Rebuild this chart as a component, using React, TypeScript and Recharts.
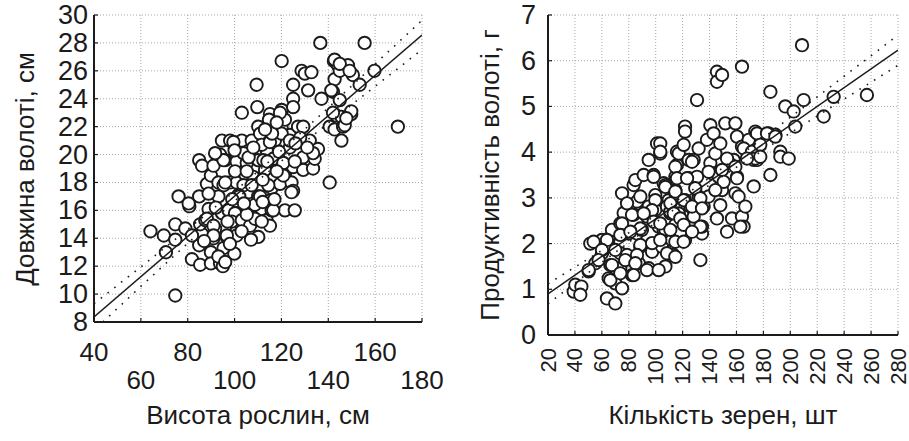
import React from 'react';
import { ScatterChart, Scatter, XAxis, YAxis, CartesianGrid, Label } from 'recharts';

// ---------- tick labels ----------
const heightTicks = [40, 60, 80, 100, 120, 140, 160, 180];
const lengthTicks = [8, 10, 12, 14, 16, 18, 20, 22, 24, 26, 28, 30];
const grainTicks = [20, 40, 60, 80, 100, 120, 140, 160, 180, 200, 220, 240, 260, 280];
const yieldTicks = [0, 1, 2, 3, 4, 5, 6, 7];

// ---------- left panel: plant height (cm) vs panicle length (cm) ----------
const heightLength: [number, number][] = [
  [64.1, 14.5], [69.8, 14.2], [70.7, 13.0], [74.7, 9.9], [74.7, 13.9], [74.7, 15.0], [76.1, 17.0], [79.0, 14.7],
  [80.7, 16.3], [81.8, 12.5], [84.9, 17.0], [84.9, 19.6], [86.1, 19.2], [85.3, 12.1], [84.9, 13.5], [86.1, 14.3],
  [85.3, 15.0], [87.5, 15.3], [88.9, 16.1], [88.2, 17.9], [89.9, 18.5], [91.0, 19.2], [89.9, 13.0], [89.9, 12.2],
  [91.0, 14.0], [91.7, 14.7], [93.8, 12.2], [95.0, 12.0], [94.6, 21.0], [93.8, 20.0], [98.1, 21.0], [96.0, 19.6],
  [93.1, 18.0], [95.3, 17.8], [94.6, 15.8], [93.1, 17.0], [96.7, 14.1], [97.4, 16.0], [98.1, 18.0], [99.9, 12.9],
  [100.9, 19.5], [100.9, 18.0], [100.9, 15.8], [100.9, 14.5], [101.6, 15.2], [103.1, 21.0], [103.8, 20.1], [104.5, 18.6],
  [103.1, 23.0], [105.2, 19.4], [105.9, 17.3], [105.9, 16.2], [105.2, 15.3], [107.3, 21.0], [108.0, 18.4], [109.4, 25.0],
  [109.7, 23.4], [110.1, 22.0], [110.9, 21.5], [110.1, 19.6], [110.9, 17.7], [110.1, 17.0], [109.4, 15.3], [110.1, 14.1],
  [111.6, 16.1], [113.7, 20.3], [113.0, 18.9], [115.1, 22.9], [114.7, 22.5], [113.7, 15.3], [115.1, 16.7], [115.8, 17.6],
  [115.8, 16.0], [116.5, 19.7], [117.2, 21.0], [120.1, 26.7], [120.1, 23.2], [120.1, 21.9], [120.8, 19.2], [121.5, 22.5],
  [121.5, 18.5], [121.5, 16.0], [119.4, 17.9], [123.6, 20.5], [125.0, 25.0], [125.0, 24.0], [125.0, 23.4], [124.3, 18.0],
  [125.0, 17.4], [125.7, 16.0], [125.0, 19.1], [123.6, 21.4], [127.1, 22.0], [128.6, 26.0], [130.0, 25.8], [129.3, 22.0],
  [129.3, 18.9], [129.3, 19.8], [131.4, 24.6], [132.1, 21.0], [132.8, 25.9], [133.5, 19.0], [134.2, 19.7], [135.6, 20.4],
  [136.6, 28.0], [137.1, 24.0], [140.6, 18.0], [140.6, 22.0], [142.0, 24.5], [142.4, 26.7], [142.7, 25.4], [143.4, 22.8],
  [142.7, 21.8], [144.1, 26.4], [144.9, 26.0], [144.9, 23.9], [145.6, 22.7], [146.3, 22.0], [145.6, 21.0], [147.0, 22.1],
  [148.4, 26.4], [149.8, 22.9], [150.5, 25.7], [153.4, 25.0], [155.5, 28.0], [159.7, 26.0], [169.7, 22.0],
  [81.8, 14.2], [80.4, 16.5], [88.2, 15.4], [91.0, 14.9], [88.9, 17.2], [91.0, 14.2], [95.3, 19.6], [91.7, 20.1],
  [99.5, 20.9], [96.0, 18.0], [100.2, 18.8], [105.2, 18.8], [103.8, 17.8], [101.6, 17.1], [100.2, 15.8], [98.8, 15.2],
  [103.1, 15.3], [100.9, 14.2], [96.7, 14.2], [95.3, 13.3], [93.1, 12.7], [96.0, 12.3], [108.7, 16.4], [106.6, 14.9],
  [111.6, 20.7], [112.3, 19.6], [114.4, 17.8], [110.9, 17.0], [107.3, 17.8], [115.1, 14.9], [108.7, 15.4], [105.2, 15.7],
  [111.6, 15.2], [142.7, 26.8], [144.9, 26.5], [149.1, 26.0], [141.3, 24.6], [142.0, 23.0], [149.8, 23.1], [147.7, 22.6],
  [119.4, 23.0], [120.1, 21.5], [115.1, 20.9], [123.6, 21.0], [133.5, 20.1], [120.8, 19.4], [125.7, 19.5], [116.5, 16.0],
  [124.3, 17.3], [120.8, 18.5], [102.0, 17.0], [104.0, 16.5], [106.0, 19.8], [108.0, 20.5], [112.0, 18.2], [114.0, 19.5],
  [118.0, 18.8], [119.0, 20.2], [117.0, 16.8], [99.0, 16.8], [97.0, 15.2], [103.0, 14.5], [107.0, 13.9], [112.0, 16.6],
  [116.0, 21.5], [100.0, 20.3], [92.0, 16.2], [87.0, 13.8], [113.0, 21.8], [118.0, 22.3], [98.0, 13.6], [128.0, 21.2],
  [131.0, 20.5], [126.0, 20.8],
];
const heightFit: [number, number][] = [[40, 8.36], [180, 28.57]];
const heightUpper: [number, number][] = [
  [40, 9.31], [60, 11.95], [80, 14.64], [100, 17.37], [110, 18.8], [120, 20.28], [140, 23.35], [160, 26.49], [180, 29.62],
];
const heightLower: [number, number][] = [
  [43.8, 8.0], [60, 10.55], [80, 13.64], [100, 16.67], [110, 18.14], [120, 19.54], [140, 22.25], [160, 24.89], [180, 27.52],
];

// ---------- right panel: grains per panicle vs panicle productivity (g) ----------
const grainYield: [number, number][] = [
  [39.1, 0.95], [40.3, 1.1], [44.8, 1.06], [44.0, 0.88], [51.4, 2.0], [50.2, 1.39], [55.2, 1.57], [60.1, 1.79],
  [60.1, 2.08], [63.8, 0.8], [65.1, 1.24], [65.1, 2.11], [67.5, 2.3], [70.0, 0.69], [66.3, 1.53], [70.0, 1.13],
  [73.7, 1.46], [75.0, 1.02], [73.7, 2.44], [75.0, 3.1], [76.2, 2.67], [75.0, 2.22], [73.7, 1.79], [77.5, 1.64],
  [82.4, 1.31], [79.9, 2.22], [83.6, 2.63], [83.6, 3.28], [84.9, 3.39], [86.1, 2.92], [86.1, 2.22], [87.4, 1.57],
  [88.6, 1.93], [89.8, 2.3], [91.1, 3.5], [94.8, 3.83], [94.8, 1.46], [93.5, 2.59], [94.8, 2.81], [98.5, 3.5],
  [97.3, 1.82], [99.7, 2.74], [99.7, 3.06], [101.0, 4.19], [103.4, 3.97], [102.2, 2.37], [104.7, 1.93], [105.9, 3.32],
  [105.9, 2.3], [107.2, 1.5], [107.2, 2.3], [109.6, 2.95], [110.9, 2.66], [113.3, 1.75], [114.6, 3.17], [114.6, 3.46],
  [115.8, 3.72], [115.8, 4.01], [117.1, 3.97], [117.1, 2.66], [118.3, 2.22], [120.8, 4.16], [121.8, 4.56], [121.8, 4.45],
  [120.8, 2.3], [121.8, 2.08], [121.8, 2.95], [124.5, 3.83], [124.5, 3.43], [125.7, 2.81], [128.2, 3.83], [128.2, 2.59],
  [130.7, 5.14], [131.9, 4.08], [130.7, 3.46], [131.9, 3.03], [133.2, 1.64], [134.4, 2.22], [135.6, 2.81], [134.4, 2.37],
  [138.1, 4.27], [140.6, 4.59], [140.6, 3.76], [139.3, 3.03], [141.8, 3.54], [143.0, 4.41], [144.3, 3.97], [145.5, 5.76],
  [145.5, 5.54], [149.3, 5.69], [151.7, 4.63], [145.5, 2.55], [146.8, 3.46], [148.0, 2.84], [149.3, 3.17], [153.0, 2.26],
  [154.2, 3.54], [156.7, 2.55], [159.2, 4.63], [160.4, 4.34], [157.9, 3.83], [159.2, 3.1], [160.4, 3.46], [161.6, 3.03],
  [164.1, 5.87], [164.1, 4.12], [164.1, 2.59], [165.3, 2.37], [166.6, 2.81], [172.8, 3.25], [169.1, 4.27], [174.0, 4.45],
  [174.0, 3.9], [172.8, 3.83], [175.3, 3.83], [183.9, 4.41], [185.2, 5.32], [185.2, 3.5], [188.9, 4.38], [192.6, 4.01],
  [192.6, 3.9], [196.3, 5.0], [198.8, 3.86], [202.5, 4.89], [203.7, 4.56], [208.7, 6.34], [209.9, 5.14], [224.8, 4.78],
  [232.2, 5.21], [256.9, 5.25],
  [98.5, 3.46], [107.2, 3.28], [88.6, 3.03], [114.6, 3.1], [78.7, 2.88], [99.7, 2.95], [97.3, 2.73], [108.4, 2.81],
  [82.4, 2.63], [91.1, 2.66], [75.0, 2.44], [98.5, 2.48], [110.9, 2.7], [73.7, 2.19], [88.6, 2.33], [114.6, 2.41],
  [53.9, 2.04], [63.8, 2.08], [81.2, 2.26], [88.6, 1.97], [97.3, 2.01], [112.1, 2.08], [118.3, 2.26], [70.0, 1.86],
  [78.7, 1.75], [86.1, 1.75], [60.1, 1.86], [57.6, 1.64], [67.5, 1.53], [77.4, 1.64], [84.9, 1.57], [93.5, 1.42],
  [102.2, 1.42], [66.3, 1.2], [73.7, 1.35], [50.2, 1.42], [83.6, 1.31],
  [175.3, 4.41], [148.0, 4.19], [103.4, 4.19], [165.4, 4.08], [171.5, 4.01], [174.0, 3.86], [167.8, 3.86], [127.0, 3.79],
  [153.0, 3.86], [159.2, 3.68], [114.6, 3.68], [103.4, 4.01], [139.3, 3.57], [149.3, 3.61], [160.4, 3.43], [115.8, 3.43],
  [123.3, 3.43], [107.2, 3.24], [114.6, 3.14], [129.4, 3.21], [150.5, 3.35], [144.3, 3.17], [133.2, 2.99], [120.8, 2.95],
  [110.9, 2.88], [127.0, 2.81], [134.4, 2.77], [113.4, 2.66], [118.3, 2.55], [162.9, 2.37], [103.4, 2.44], [110.9, 2.3],
  [120.8, 2.41], [133.2, 2.37], [127.0, 2.26], [103.4, 2.08], [114.6, 2.04], [120.8, 2.04], [108.4, 1.79], [114.6, 1.71],
  [182.7, 4.41], [188.9, 4.34], [177.7, 4.16], [177.7, 3.9],
];
const grainFit: [number, number][] = [[20, 0.9], [280, 6.23]];
const grainUpper: [number, number][] = [
  [20, 1.12], [60, 1.85], [100, 2.62], [130, 3.23], [160, 3.87], [200, 4.76], [240, 5.66], [280, 6.56],
];
const grainLower: [number, number][] = [
  [20, 0.68], [60, 1.59], [100, 2.46], [130, 3.09], [160, 3.67], [200, 4.42], [240, 5.16], [280, 5.9],
];

// ---------- styling ----------
const FONT = '"Liberation Sans", Arial, Helvetica, sans-serif';
const INK = '#1b1b1b';
const GRID = '#a8a8a8';
const TICK_LEN = 4;

const toPts = (arr: [number, number][]) => arr.map(([x, y]) => ({ x, y }));

const Ring = (props: any) => {
  const { cx, cy } = props;
  if (cx == null || cy == null) return <g />;
  return <circle cx={cx} cy={cy} r={6.2} fill="#ffffff" stroke={INK} strokeWidth={1.9} />;
};
const NoShape = () => <g />;

const makeLeftYTick = (gap: number, size: number) => (props: any) => {
  const { x, y, payload } = props;
  return (
    <g>
      <line x1={x} y1={y} x2={x + TICK_LEN} y2={y} stroke={INK} strokeWidth={1.2} />
      <text x={x - gap} y={y} textAnchor="end" dominantBaseline="central" fontSize={size} fill={INK} fontFamily={FONT}>
        {payload.value}
      </text>
    </g>
  );
};

const RightYTick = (props: any) => {
  const { x, y } = props;
  return <line x1={x} y1={y} x2={x - TICK_LEN} y2={y} stroke={INK} strokeWidth={1.2} />;
};
const TopXTick = (props: any) => {
  const { x, y } = props;
  return <line x1={x} y1={y} x2={x} y2={y + TICK_LEN} stroke={INK} strokeWidth={1.2} />;
};

const StaggerXTick = (props: any) => {
  const { x, y, payload } = props;
  const low = Math.round(payload.value / 20) % 2 === 1;
  return (
    <g>
      <line x1={x} y1={y} x2={x} y2={y - TICK_LEN} stroke={INK} strokeWidth={1.2} />
      <text x={x} y={y + (low ? 58 : 30)} textAnchor="middle" dominantBaseline="central" fontSize={26} fill={INK} fontFamily={FONT}>
        {payload.value}
      </text>
    </g>
  );
};

const RotatedXTick = (props: any) => {
  const { x, y, payload } = props;
  const ty = y + 13;
  return (
    <g>
      <line x1={x} y1={y} x2={x} y2={y - TICK_LEN} stroke={INK} strokeWidth={1.2} />
      <text
        x={x}
        y={ty}
        transform={`rotate(-90, ${x}, ${ty})`}
        textAnchor="end"
        dominantBaseline="central"
        fontSize={22}
        fill={INK}
        fontFamily={FONT}
      >
        {payload.value}
      </text>
    </g>
  );
};

const title = (x: number, y: number, text: string, vertical: boolean) => () =>
  (
    <text
      x={x}
      y={y}
      transform={vertical ? `rotate(-90, ${x}, ${y})` : undefined}
      textAnchor="middle"
      dominantBaseline="central"
      fontSize={26}
      fill={INK}
      fontFamily={FONT}
    >
      {text}
    </text>
  );

const axisLineStyle = { stroke: INK, strokeWidth: 2 };

export default function App() {
  const leftPts = toPts(heightLength);
  const rightPts = toPts(grainYield);
  return (
    <div style={{ position: 'absolute', left: 0, top: 0, width: 909, height: 441, background: '#fff', display: 'flex' }}>
      <ScatterChart width={455} height={441} margin={{ top: 15, right: 33, bottom: 0, left: 0 }} style={{ fontFamily: FONT }}>
        <CartesianGrid xAxisId="b" yAxisId="l" stroke={GRID} strokeDasharray="1 2" />
        <XAxis
          xAxisId="b"
          type="number"
          dataKey="x"
          domain={[40, 180]}
          ticks={heightTicks}
          interval={0}
          allowDataOverflow
          height={119}
          tickSize={0}
          tickMargin={0}
          tickLine={false}
          axisLine={axisLineStyle}
          tick={StaggerXTick}
        >
          <Label content={title(258, 415, 'Висота рослин, см', false)} />
        </XAxis>
        <XAxis
          xAxisId="t"
          orientation="top"
          type="number"
          dataKey="x"
          domain={[40, 180]}
          ticks={heightTicks}
          interval={0}
          allowDataOverflow
          height={0}
          tickSize={0}
          tickMargin={0}
          tickLine={false}
          axisLine={axisLineStyle}
          tick={TopXTick}
        />
        <YAxis
          yAxisId="l"
          type="number"
          dataKey="y"
          domain={[8, 30]}
          ticks={lengthTicks}
          interval={0}
          allowDataOverflow
          width={94}
          tickSize={0}
          tickMargin={0}
          tickLine={false}
          axisLine={axisLineStyle}
          tick={makeLeftYTick(6, 27)}
        >
          <Label content={title(25, 169, 'Довжина волоті, см', true)} />
        </YAxis>
        <YAxis
          yAxisId="r"
          orientation="right"
          type="number"
          dataKey="y"
          domain={[8, 30]}
          ticks={lengthTicks}
          interval={0}
          allowDataOverflow
          width={0}
          tickSize={0}
          tickMargin={0}
          tickLine={false}
          axisLine={axisLineStyle}
          tick={RightYTick}
        />
        <Scatter xAxisId="b" yAxisId="l" data={leftPts} shape={Ring} isAnimationActive={false} />
        <Scatter xAxisId="b" yAxisId="l" data={toPts(heightFit)} shape={NoShape} line={{ stroke: INK, strokeWidth: 1.5 }} isAnimationActive={false} />
        <Scatter xAxisId="b" yAxisId="l" data={toPts(heightUpper)} shape={NoShape} line={{ stroke: INK, strokeWidth: 1.6, strokeDasharray: '1.6 7' }} isAnimationActive={false} />
        <Scatter xAxisId="b" yAxisId="l" data={toPts(heightLower)} shape={NoShape} line={{ stroke: INK, strokeWidth: 1.6, strokeDasharray: '1.6 7' }} isAnimationActive={false} />
      </ScatterChart>

      <ScatterChart width={454} height={441} margin={{ top: 15, right: 11, bottom: 0, left: 0 }} style={{ fontFamily: FONT }}>
        <CartesianGrid xAxisId="b" yAxisId="l" stroke={GRID} strokeDasharray="1 2" />
        <XAxis
          xAxisId="b"
          type="number"
          dataKey="x"
          domain={[20, 280]}
          ticks={grainTicks}
          interval={0}
          allowDataOverflow
          height={106}
          tickSize={0}
          tickMargin={0}
          tickLine={false}
          axisLine={axisLineStyle}
          tick={RotatedXTick}
        >
          <Label content={title(268, 415, 'Кількість зерен, шт', false)} />
        </XAxis>
        <XAxis
          xAxisId="t"
          orientation="top"
          type="number"
          dataKey="x"
          domain={[20, 280]}
          ticks={grainTicks}
          interval={0}
          allowDataOverflow
          height={0}
          tickSize={0}
          tickMargin={0}
          tickLine={false}
          axisLine={axisLineStyle}
          tick={TopXTick}
        />
        <YAxis
          yAxisId="l"
          type="number"
          dataKey="y"
          domain={[0, 7]}
          ticks={yieldTicks}
          interval={0}
          allowDataOverflow
          width={93}
          tickSize={0}
          tickMargin={0}
          tickLine={false}
          axisLine={axisLineStyle}
          tick={makeLeftYTick(12, 27)}
        >
          <Label content={title(35, 175, 'Продуктивність волоті, г', true)} />
        </YAxis>
        <YAxis
          yAxisId="r"
          orientation="right"
          type="number"
          dataKey="y"
          domain={[0, 7]}
          ticks={yieldTicks}
          interval={0}
          allowDataOverflow
          width={0}
          tickSize={0}
          tickMargin={0}
          tickLine={false}
          axisLine={axisLineStyle}
          tick={RightYTick}
        />
        <Scatter xAxisId="b" yAxisId="l" data={rightPts} shape={Ring} isAnimationActive={false} />
        <Scatter xAxisId="b" yAxisId="l" data={toPts(grainFit)} shape={NoShape} line={{ stroke: INK, strokeWidth: 1.5 }} isAnimationActive={false} />
        <Scatter xAxisId="b" yAxisId="l" data={toPts(grainUpper)} shape={NoShape} line={{ stroke: INK, strokeWidth: 1.6, strokeDasharray: '1.6 7' }} isAnimationActive={false} />
        <Scatter xAxisId="b" yAxisId="l" data={toPts(grainLower)} shape={NoShape} line={{ stroke: INK, strokeWidth: 1.6, strokeDasharray: '1.6 7' }} isAnimationActive={false} />
      </ScatterChart>
    </div>
  );
}
